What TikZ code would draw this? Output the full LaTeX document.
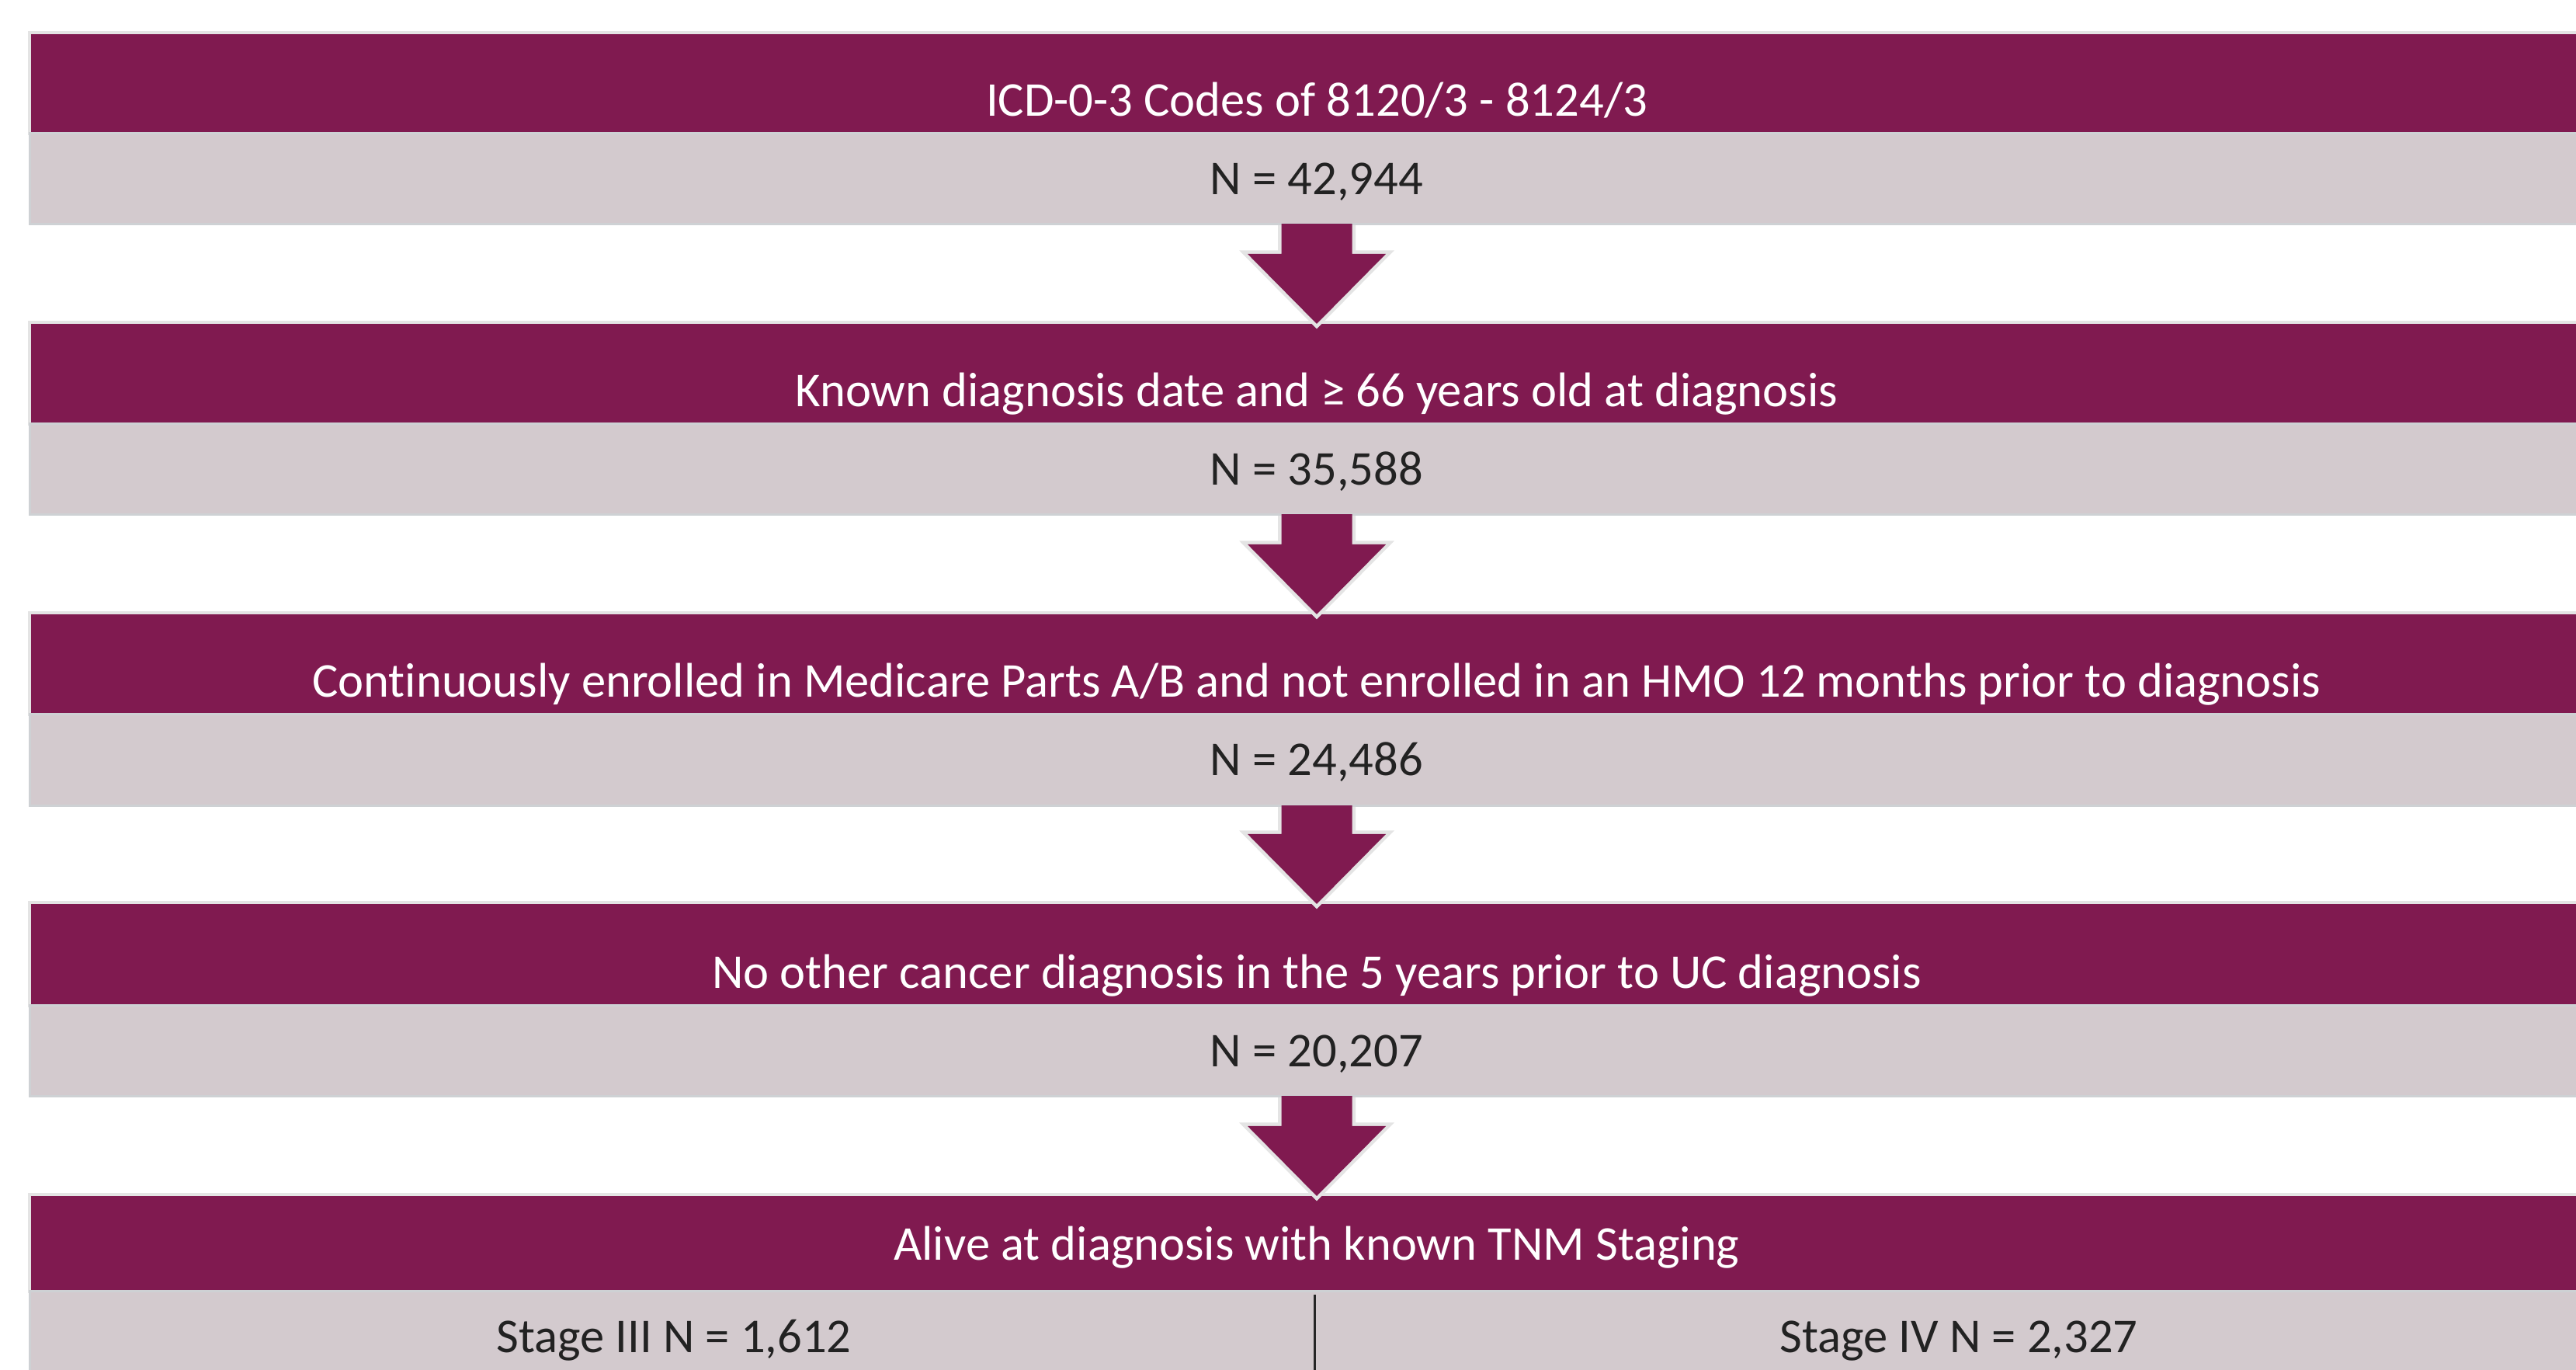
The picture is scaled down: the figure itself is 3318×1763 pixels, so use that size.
\documentclass[tikz,border=0pt]{standalone}
\usepackage{fontspec}
\setmainfont{Carlito}[RawFeature={-liga;-clig;-dlig}]
\usetikzlibrary{calc}
\definecolor{plum}{RGB}{128,26,80}
\definecolor{greybox}{RGB}{211,202,206}
\definecolor{outl}{RGB}{228,228,228}
\definecolor{goutl}{RGB}{206,209,212}
\definecolor{txt}{RGB}{34,34,34}
\begin{document}
\begin{tikzpicture}[x=0.01cm,y=-0.01cm,
  headbox/.style={fill=plum, draw=outl, line width=0.04cm, minimum width=33.14cm, inner sep=0pt, outer sep=0pt},
  numbox/.style={fill=greybox, draw=goutl, line width=0.03cm, minimum width=33.14cm, inner sep=0pt, outer sep=0pt},
  headtxt/.style={anchor=base, text=white, inner sep=0pt, font=\fontsize{17.8}{21}\selectfont},
  numtxt/.style={anchor=base, text=txt, inner sep=0pt, font=\fontsize{17.8}{21}\selectfont},
  arrowedge/.style={draw=outl, line width=0.09cm, line join=miter, fill=plum},
  arrowfill/.style={fill=plum},
  divider/.style={draw=black!85, line width=0.03cm}
]
\useasboundingbox (0,0) rectangle (3318,1763);
\clip (0,0) rectangle (3318,1763);
\fill[white] (0,0) rectangle (3318,1763);

% boxes: purple from T-2 to P, grey from P to G
\node[headbox, minimum height=1.30cm] (p1) at (1696,107) {};
\node[numbox,  minimum height=1.16cm] (g1) at (1696,230) {};
\node[headbox, minimum height=1.31cm] (p2) at (1696,480.5) {};
\node[numbox,  minimum height=1.16cm] (g2) at (1696,604) {};
\node[headbox, minimum height=1.31cm] (p3) at (1696,854.5) {};
\node[numbox,  minimum height=1.17cm] (g3) at (1696,978.5) {};
\node[headbox, minimum height=1.33cm] (p4) at (1696,1228.5) {};
\node[numbox,  minimum height=1.16cm] (g4) at (1696,1353) {};
\node[headbox, minimum height=1.25cm] (p5) at (1696,1600.5) {};
\node[numbox,  minimum height=1.27cm] (g5) at (1696,1726.5) {};

% texts
\node[headtxt] (t1) at ($(p1.south)+(0,-23)$) {ICD-0-3 Codes of 8120/3 - 8124/3};
\node[numtxt]  (n1) at ($(g1.center)+(0,20)$) {N = 42,944};
\node[headtxt] (t2) at ($(p2.south)+(0,-23)$) {Known diagnosis date and ≥ 66 years old at diagnosis};
\node[numtxt]  (n2) at ($(g2.center)+(0,20)$) {N = 35,588};
\node[headtxt] (t3) at ($(p3.south)+(0,-23)$) {Continuously enrolled in Medicare Parts A/B and not enrolled in an HMO 12 months prior to diagnosis};
\node[numtxt]  (n3) at ($(g3.center)+(0,20)$) {N = 24,486};
\node[headtxt] (t4) at ($(p4.south)+(0,-23)$) {No other cancer diagnosis in the 5 years prior to UC diagnosis};
\node[numtxt]  (n4) at ($(g4.center)+(0,20)$) {N = 20,207};
\node[headtxt] (t5) at ($(p5.south)+(0,-41)$) {Alive at diagnosis with known TNM Staging};
\node[numtxt]  (s3) at (868,1741) {Stage III N = 1,612};
\node[numtxt]  (s4) at (2523,1741) {Stage IV N = 2,327};

% divider
\coordinate (dt) at ($(p5.south)+(-3,4)$);
\coordinate (db) at ($(p5.south)+(-3,140)$);
\draw[divider] (dt) -- (db);

% block arrows
\foreach \a/\b in {g1/p2, g2/p3, g3/p4, g4/p5}{
  \path[arrowedge]
    ($(\a.south)+(-45.5,2)$) -- ($(\b.north)+(-45.5,-88)$) -- ($(\b.north)+(-89,-88)$)
    -- ($(\b.north)+(0,2)$) -- ($(\b.north)+(89,-88)$) -- ($(\b.north)+(45.5,-88)$)
    -- ($(\a.south)+(45.5,2)$);
  \fill[arrowfill]
    ($(\a.south)+(-45.5,0)$) -- ($(\b.north)+(-45.5,-88)$) -- ($(\b.north)+(-89,-88)$)
    -- ($(\b.north)+(0,2)$) -- ($(\b.north)+(89,-88)$) -- ($(\b.north)+(45.5,-88)$)
    -- ($(\a.south)+(45.5,0)$) -- cycle;
}
\end{tikzpicture}
\end{document}
